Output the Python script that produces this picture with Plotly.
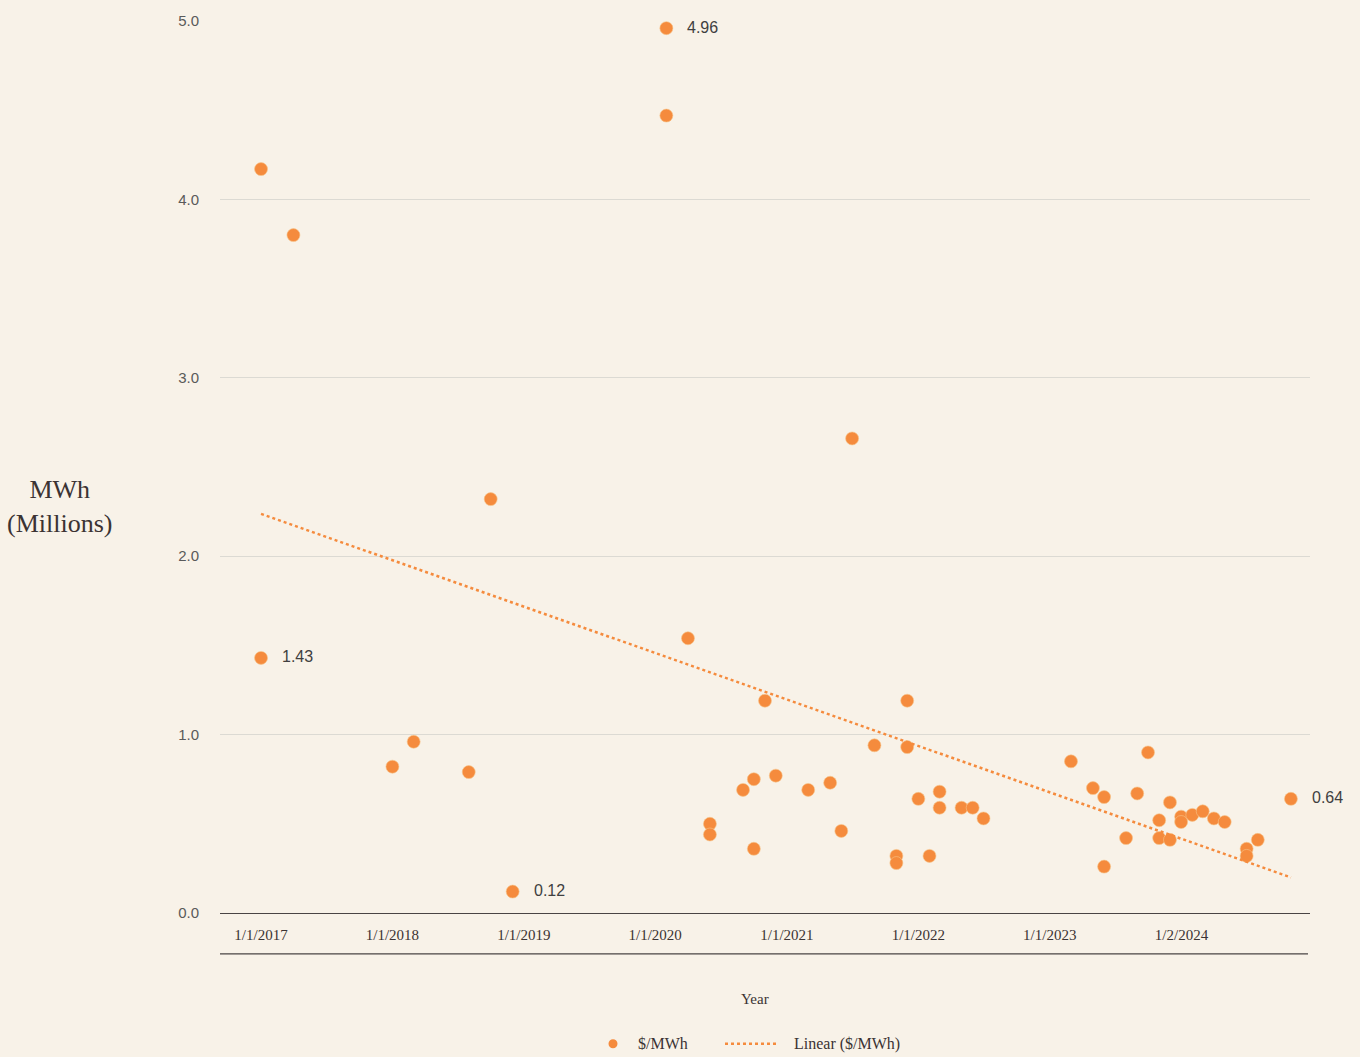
import numpy as np
import pandas as pd
import plotly.graph_objects as go

# ---- data ----
dates = [
    "2017-01-01", "2017-01-01", "2017-04-01", "2018-01-01", "2018-03-01", "2018-08-01",
    "2018-10-01", "2018-12-01", "2020-02-01", "2020-02-01", "2020-04-01", "2020-06-01",
    "2020-06-01", "2020-09-01", "2020-10-01", "2020-10-01", "2020-11-01", "2020-12-01",
    "2021-03-01", "2021-05-01", "2021-06-01", "2021-07-01", "2021-09-01", "2021-11-01",
    "2021-11-01", "2021-12-01", "2021-12-01", "2022-01-01", "2022-02-01", "2022-03-01",
    "2022-03-01", "2022-05-01", "2022-06-01", "2022-07-01", "2023-03-01", "2023-05-01",
    "2023-06-01", "2023-06-01", "2023-08-01", "2023-09-01", "2023-10-01", "2023-11-01",
    "2023-11-01", "2023-12-01", "2023-12-01", "2024-01-01", "2024-01-01", "2024-02-01",
    "2024-03-01", "2024-04-01", "2024-05-01", "2024-07-01", "2024-07-01", "2024-08-01",
    "2024-11-01",
]
values = [
    4.17, 1.43, 3.80, 0.82, 0.96, 0.79,
    2.32, 0.12, 4.96, 4.47, 1.54, 0.50,
    0.44, 0.69, 0.75, 0.36, 1.19, 0.77,
    0.69, 0.73, 0.46, 2.66, 0.94, 0.32,
    0.28, 1.19, 0.93, 0.64, 0.32, 0.68,
    0.59, 0.59, 0.59, 0.53, 0.85, 0.70,
    0.65, 0.26, 0.42, 0.67, 0.90, 0.52,
    0.42, 0.62, 0.41, 0.54, 0.51, 0.55,
    0.57, 0.53, 0.51, 0.36, 0.32, 0.41,
    0.64,
]
labelled = [1, 7, 8, 54]  # indices of points carrying a data label

tick_dates = ["2017-01-01", "2018-01-01", "2019-01-01", "2020-01-01",
              "2021-01-01", "2022-01-01", "2023-01-01", "2024-01-02"]
tick_text = ["1/1/2017", "1/1/2018", "1/1/2019", "1/1/2020",
             "1/1/2021", "1/1/2022", "1/1/2023", "1/2/2024"]
y_ticks = [0, 1, 2, 3, 4, 5]
series_name = "$/MWh"
trend_name = "Linear ($/MWh)"

# ---- styles ----
BG = "#F8F2E8"
ORANGE = "#F58B3D"
TXT = "#3b3333"
SERIF = "Liberation Serif, Times New Roman, serif"
SANS = "Liberation Sans, Arial, sans-serif"

W, H = 1360, 1057
ML, MR, MT, MB = 220, 50, 19, 144
PW, PH = W - ML - MR, H - MT - MB


def px(xp):
    return (xp - ML) / PW


def py(yp):
    return (H - MB - yp) / PH


dt = pd.to_datetime(dates)
epoch = pd.Timestamp("1970-01-01")
days = (dt - epoch).days.values.astype(float)
slope, intercept = np.polyfit(days, np.array(values), 1)
t0, t1 = days.min(), days.max()
trend_x = [epoch + pd.Timedelta(days=t0), epoch + pd.Timedelta(days=t1)]
trend_y = [slope * t0 + intercept, slope * t1 + intercept]

fig = go.Figure()
fig.add_trace(go.Scatter(
    x=dt, y=values, mode="markers", name=series_name,
    marker=dict(color=ORANGE, size=13, line=dict(width=0.6, color="#F7C58A")),
    cliponaxis=False, showlegend=False,
))
fig.add_trace(go.Scatter(
    x=trend_x, y=trend_y, mode="lines", name=trend_name,
    line=dict(color=ORANGE, width=2.5, dash="dot"), showlegend=False,
))

for i in labelled:
    fig.add_annotation(
        x=dt[i], y=values[i], text=f"{values[i]:.2f}", showarrow=False,
        xanchor="left", yanchor="middle", xshift=19, yshift=1,
        font=dict(family=SANS, size=16, color="#404040"),
    )

# axis titles
fig.add_annotation(
    xref="paper", yref="paper", x=px(59), y=py(506),
    text="MWh<br>(Millions)", showarrow=False, xanchor="center", yanchor="middle",
    font=dict(family=SERIF, size=26, color=TXT),
)
fig.add_annotation(
    xref="paper", yref="paper", x=px(755), y=py(999), text="Year", showarrow=False,
    xanchor="center", yanchor="middle",
    font=dict(family=SERIF, size=15, color=TXT),
)
# line below the tick labels
fig.add_shape(type="line", xref="paper", yref="paper", x0=0, x1=px(1308),
              y0=py(954), y1=py(954), line=dict(color="#4a4444", width=1.3))

# custom legend
ly = py(1044)
fig.add_shape(type="circle", xref="paper", yref="paper",
              x0=px(608.5), x1=px(617.5), y0=py(1048.5), y1=py(1039.5),
              fillcolor=ORANGE, line=dict(width=0))
fig.add_annotation(xref="paper", yref="paper", x=px(636), y=ly, text=series_name,
                   showarrow=False, xanchor="left", yanchor="middle",
                   font=dict(family=SERIF, size=16, color=TXT))
fig.add_shape(type="line", xref="paper", yref="paper", x0=px(725), x1=px(777),
              y0=ly, y1=ly, line=dict(color=ORANGE, width=2.5, dash="dot"))
fig.add_annotation(xref="paper", yref="paper", x=px(792), y=ly, text=trend_name,
                   showarrow=False, xanchor="left", yanchor="middle",
                   font=dict(family=SERIF, size=16, color=TXT))

fig.update_layout(
    width=W, height=H,
    margin=dict(l=ML, r=MR, t=MT, b=MB),
    paper_bgcolor=BG, plot_bgcolor=BG,
    showlegend=False,
    xaxis=dict(
        type="date", range=["2016-09-09", "2024-12-24"],
        tickvals=pd.to_datetime(tick_dates), ticktext=tick_text,
        showgrid=False, zeroline=False, showline=True, linecolor="#4a4444", linewidth=1.3,
        ticks="", ticklabelstandoff=8,
        tickfont=dict(family=SERIF, size=15, color=TXT),
    ),
    yaxis=dict(
        range=[0, 5], tickvals=y_ticks, tickformat=".1f",
        showgrid=True, gridcolor="#DCDAD3", gridwidth=1, zeroline=False,
        ticks="", ticklabelstandoff=20,
        tickfont=dict(family=SANS, size=15, color="#5a5a5a"),
    ),
)

fig.write_html(
    "out.html",
    config={"displayModeBar": False},
    post_script="document.body.style.margin='0';document.body.style.background='%s';" % BG,
)
